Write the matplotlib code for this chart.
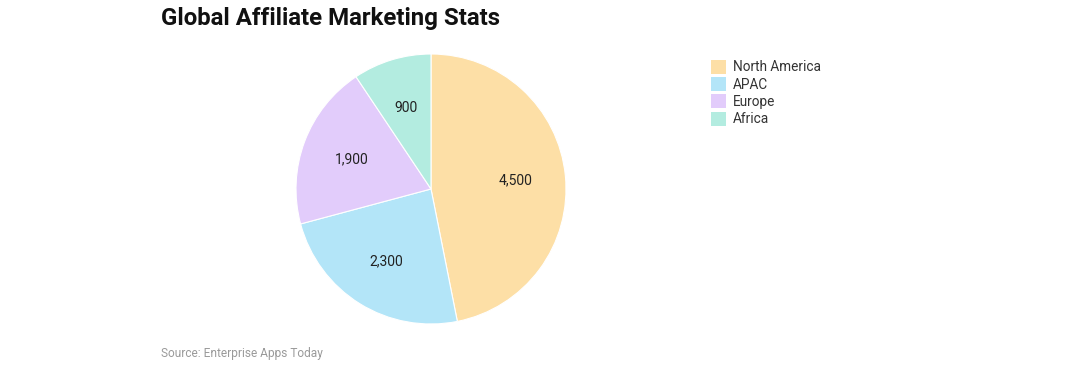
import matplotlib.pyplot as plt
from matplotlib.patches import Patch

plt.rcParams['font.family'] = ['Roboto', 'DejaVu Sans']

regions = ['North America', 'APAC', 'Europe', 'Africa']
values = [4500, 2300, 1900, 900]
colors = ['#FDDFA6', '#B3E5F8', '#E2CCFB', '#B3ECE0']

fig = plt.figure(figsize=(10.8, 3.67), dpi=100)

# pie area: centre (431, 189), radius 135 px
ax = fig.add_axes([296 / 1080, 43 / 367, 270 / 1080, 270 / 367])
ax.pie(values, colors=colors, startangle=90, counterclock=False, radius=1,
       labels=[f'{v:,}' for v in values], labeldistance=0.63,
       textprops=dict(fontsize=10, color='#222222', ha='center', va='center'),
       wedgeprops=dict(edgecolor='white', linewidth=0.8))
ax.set_xlim(-1, 1)
ax.set_ylim(-1, 1)
ax.set_aspect('equal')
ax.axis('off')

fig.text(161 / 1080, 1 - 19 / 367, 'Global Affiliate Marketing Stats', fontsize=17.3,
         fontweight='bold', va='center', ha='left', color='#111111')
fig.text(161 / 1080, 1 - 353 / 367, 'Source: Enterprise Apps Today', fontsize=8.6,
         va='center', ha='left', color='#9a9a9a')

handles = [Patch(facecolor=c, edgecolor='none') for c in colors]
leg = fig.legend(handles, regions, loc='upper left', bbox_to_anchor=(708 / 1080, 1 - 57 / 367),
                 frameon=False, fontsize=9.8, handlelength=1.15, handleheight=1.2,
                 handletextpad=0.5, labelspacing=0.2, borderaxespad=0, borderpad=0.2)
for t in leg.get_texts():
    t.set_color('#333333')

fig.savefig('out.png', dpi=100, facecolor='white')
